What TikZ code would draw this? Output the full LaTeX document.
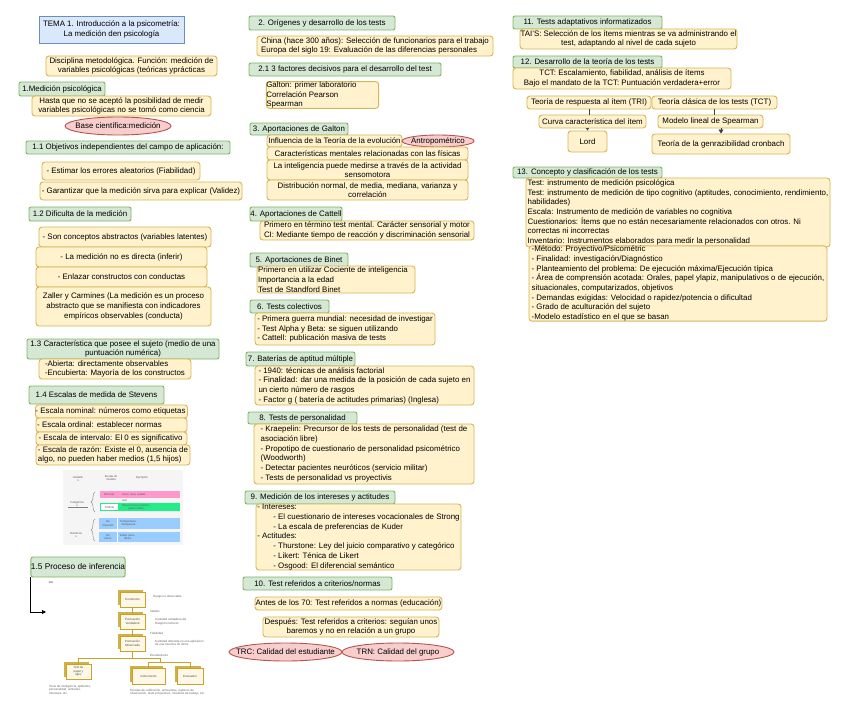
\documentclass[tikz,border=0pt]{standalone}
\usepackage{fontspec}
\setmainfont{Liberation Sans}
\usetikzlibrary{arrows.meta,shapes.geometric}
\definecolor{yfill}{HTML}{FFF2CC}
\definecolor{ydraw}{HTML}{D6B656}
\definecolor{gfill}{HTML}{D5E8D4}
\definecolor{gdraw}{HTML}{82B366}
\definecolor{rfill}{HTML}{F8CECC}
\definecolor{rdraw}{HTML}{B85450}
\definecolor{bfill}{HTML}{DAE8FC}
\definecolor{bdraw}{HTML}{6C8EBF}
\definecolor{gold}{HTML}{C9A227}
\definecolor{cream}{HTML}{FFF8E6}
\definecolor{tpink}{HTML}{FF99CC}
\definecolor{tgreen}{HTML}{22EE88}
\definecolor{tblue}{HTML}{99CCFF}
\newcommand\mkbox[7]{%
 \pgfmathsetmacro\myW{#5-#3}\pgfmathsetmacro\myH{#6-#4}%
 \pgfmathsetmacro\myX{(#3+#5)/2}\pgfmathsetmacro\myY{(#4+#6)/2}%
 \node[#1, minimum width=\myW pt, minimum height=\myH pt] (#2) at (\myX,\myY) {#7};}
\tikzset{
 basefont/.style={inner sep=0pt, font=\fontsize{7.9}{9.7}\selectfont, line width=0.9pt},
 ybox/.style={basefont, draw=ydraw, fill=yfill, rounded corners=3pt, align=center},
 yboxl/.style={ybox, align=left},
 gbox/.style={basefont, draw=gdraw, fill=gfill, rounded corners=2pt, align=center},
 bbox/.style={basefont, draw=bdraw, fill=bfill, align=center},
 rell/.style={basefont, ellipse, draw=rdraw, fill=rfill, inner xsep=-30pt, inner ysep=-8pt},
 conn/.style={line width=0.8pt, draw=black!75},
 ibox/.style={inner sep=0pt, draw=gold, fill=cream, line width=0.6pt, align=center, font=\fontsize{3}{3.6}\selectfont, text=black!70},
 itxt/.style={inner sep=0pt, align=left, anchor=west, font=\fontsize{3}{3.6}\selectfont, text=black!60},
 ttxt/.style={inner sep=0pt, align=center, font=\fontsize{2.8}{3.3}\selectfont, text=black!65},
 iline/.style={draw=gold, line width=0.6pt},
}
\begin{document}
\begin{tikzpicture}[x=1pt,y=-1pt]
\fill[white] (0,0) rectangle (848,717);
\useasboundingbox (0,0) rectangle (848,717);
% ---------------- left column
\mkbox{bbox}{tema}{39}{16}{184}{43}{TEMA 1. Introducción a la psicometría:\\La medición den psicología}
\mkbox{ybox}{disc}{46}{56}{217}{76}{Disciplina metodológica. Función: medición de\\variables psicológicas (teóricas yprácticas}
\mkbox{gbox}{g1}{19}{82}{105}{96}{1.Medición psicológica}
\mkbox{ybox}{hasta}{32}{96}{211}{116}{Hasta que no se aceptó la posibilidad de medir\\variables psicológicas no se tomó como ciencia}
\mkbox{rell}{basecient}{65}{117}{171}{135}{Base científica:medición}
\mkbox{gbox}{g11}{26}{141}{230}{154}{1.1 Objetivos independientes del campo de aplicación:}
\mkbox{ybox}{estimar}{42}{162}{200}{180}{- Estimar los errores aleatorios (Fiabilidad)}
\mkbox{ybox}{garant}{40}{182}{242}{200}{- Garantizar que la medición sirva para explicar (Validez)}
\mkbox{gbox}{g12}{29}{207}{131}{221}{1.2 Dificulta de la medición}
\mkbox{ybox}{son}{39}{227}{211}{247}{- Son conceptos abstractos (variables latentes)}
\mkbox{ybox}{nodir}{36}{247}{207}{267}{- La medición no es directa (inferir)}
\mkbox{ybox}{enlazar}{36}{267}{207}{287}{- Enlazar constructos con conductas}
\mkbox{ybox}{zaller}{36}{287}{211}{326}{Zaller y Carmines (La medición es un proceso\\abstracto que se manifiesta con indicadores\\empíricos observables (conducta)}
\mkbox{gbox}{g13}{27}{339}{219}{359}{1.3 Característica que posee el sujeto (medio de una\\puntuación numérica)}
\mkbox{yboxl}{abierta}{39}{359}{191}{379}{-Abierta: directamente observables\\-Encubierta: Mayoría de los constructos}
\mkbox{gbox}{g14}{29}{386}{164}{404}{1.4 Escalas de medida de Stevens}
\mkbox{yboxl}{nominal}{36}{405}{187}{418}{- Escala nominal: números como etiquetas\hspace*{2pt}}
\mkbox{yboxl}{ordinal}{36}{418}{187}{432}{- Escala ordinal: establecer normas\hspace*{24pt}}
\mkbox{yboxl}{interv}{36}{432}{187}{445}{- Escala de intervalo: El 0 es significativo\hspace*{2pt}}
\mkbox{yboxl}{razon}{36}{445}{190}{465}{- Escala de razón: Existe el 0, ausencia de\\algo, no pueden haber medios (1,5 hijos)}
% scales table image
\fill[black!4] (63,470) rectangle (183,545);
\node[ttxt] (tv) at (78,479) {Variable\\s};
\node[ttxt] (te) at (111,478) {Escala de\\medida};
\node[ttxt] (tej) at (142,478) {Ejemplos};
\fill[tpink] (100,491) rectangle (180,498);
\node[ttxt] (tnom) at (109,494.5) {Nominal};
\node[ttxt, anchor=west] (tnomx) at (122,494.5) {Sexo, raza, estado};
\node[ttxt, anchor=west] (tnomy) at (122,500.5) {civil};
\fill[tgreen] (100,503) rectangle (180,511);
\fill[white] (101,504) rectangle (118,510);
\node[ttxt] (tord) at (109.5,507) {Ordinal};
\node[ttxt, anchor=west] (tordx) at (122,507) {Nivel socioeconómico,\\grado militar};
\node[ttxt] (tcat) at (77,504) {Categórica\\s};
\draw[black!50, line width=0.3pt] (68,507) -- (88,507);
\draw[black!50, line width=0.4pt] (95,492) .. controls (92,492) and (94,502) .. (91,502) .. controls (94,502) and (92,512) .. (95,512);
\fill[tblue] (99,518) rectangle (180,529);
\fill[tblue] (99,532) rectangle (180,542);
\draw[white, line width=0.5pt] (117,518) -- (117,529) (117,532) -- (117,542);
\node[ttxt] (tint) at (108,523.5) {De\\Intervalo};
\node[ttxt, anchor=west] (tintx) at (120,523.5) {Temperatura,\\inteligencia};
\node[ttxt] (traz) at (108,537) {De\\razón};
\node[ttxt, anchor=west] (trazx) at (120,537) {Edad, peso,\\altura};
\node[ttxt] (tnum) at (76,535) {Numérica\\s};
\draw[black!50, line width=0.4pt] (95,519) .. controls (92,519) and (94,530) .. (91,530) .. controls (94,530) and (92,541) .. (95,541);
% 1.5
\mkbox{gbox}{g15}{32}{557}{124}{577}{\fontsize{8.3}{10}\selectfont 1.5 Proceso de inferencia}
\coordinate (infend) at (46,612);
\draw[line width=0.8pt, -{Triangle[length=4pt,width=4pt]}] (g15.south west) |- (infend);
\node[inner sep=0pt, font=\fontsize{7.7}{9}\selectfont] (dash) at (51,583) {–};
% inference image
\foreach \nm/\xa/\ya/\xb/\yb/\tx in {cons/120/592/145/607/Constructo, pv/120/614/145/629/{Puntuación\\Verdadera}, po/120/636/145/651/{Puntuación\\Observada}, tpl/66/664/91/679/{Test de\\papel y\\lápiz}, instr/132/668/165/684/Instrumento, evalu/177/668/203/684/Evaluador}{
  \fill[gold!85] (\xa-2,\ya-2) rectangle (\xb-2,\yb-2);
  \mkbox{ibox}{\nm}{\xa}{\ya}{\xb}{\yb}{\tx}
}
\draw[iline] (cons) -- (pv);
\draw[iline] (pv) -- (po);
\coordinate (j1) at (132.5,658);
\coordinate (j2) at (160,662);
\draw[iline] (po.south) -- (j1);
\draw[iline] (tpl.north |- j1) -- (j2 |- j1) -- (j2);
\draw[iline] (tpl.north |- j1) -- (tpl.north);
\draw[iline] (instr.north |- j2) -- (evalu.north |- j2);
\draw[iline] (instr.north |- j2) -- (instr.north);
\draw[iline] (evalu.north |- j2) -- (evalu.north);
\node[itxt] (l1) at (153,597) {Rasgo no observable};
\node[itxt] (l2) at (150,611) {Validez};
\node[itxt] (l3) at (155,622) {Cantidad verdadera del\\Rasgo/constructo};
\node[itxt] (l4) at (150,633) {Fiabilidad};
\node[itxt] (l5) at (155,643) {Cantidad obtenida en una aplicación\\de una muestra de ítems};
\node[itxt] (l6) at (150,655) {Escalamiento};
\node[itxt] (l7) at (49,690) {Tests de inteligencia, aptitudes,\\personalidad, actitudes,\\intereses, etc.};
\node[itxt] (l8) at (130,692) {Escalas de calificación, entrevistas, registros de\\observación, tests proyectivos, muestras de trabajo, etc.};
% ---------------- middle column
\mkbox{gbox}{g2}{249}{16}{395}{30}{2. Orígenes y desarrollo de los tests}
\mkbox{yboxl}{china}{257}{36}{493}{56}{China (hace 300 años): Selección de funcionarios para el trabajo\\Europa del siglo 19: Evaluación de las diferencias personales}
\mkbox{gbox}{g21}{249}{63}{441}{76}{2.1 3 factores decisivos para el desarrollo del test}
\mkbox{yboxl}{galton}{267}{82}{378}{108}{Galton: primer laboratorio\hspace*{22pt}\\Correlación Pearson\\Spearman}
\mkbox{gbox}{g3}{250}{123}{348}{135}{3. Aportaciones de Galton}
\mkbox{ybox}{influ}{267}{135}{402}{147}{Influencia de la Teoría de la evolución}
\mkbox{rell}{antro}{402}{135}{474}{147}{Antropométrico}
\mkbox{ybox}{caract}{267}{147}{468}{160}{Características mentales relacionadas con las físicas}
\mkbox{ybox}{intel}{267}{160}{468}{180}{La inteligencia puede medirse a través de la actividad\\sensomotora}
\mkbox{ybox}{distr}{267}{180}{468}{200}{Distribución normal, de media, mediana, varianza y\\correlación}
\mkbox{gbox}{g4}{250}{207}{342}{221}{4. Aportaciones de Cattell}
\mkbox{yboxl}{cattell}{260}{221}{474}{240}{Primero en término test mental. Carácter sensorial y motor\\CI: Mediante tiempo de reacción y discriminación sensorial}
\mkbox{gbox}{g5}{250}{253}{348}{267}{5. Aportaciones de Binet}
\mkbox{yboxl}{binet}{257}{266}{415}{293}{Primero en utilizar Cociente de inteligencia\hspace*{6pt}\\Importancia a la edad\\Test de Standford Binet}
\mkbox{gbox}{g6}{250}{300}{329}{313}{6. Tests colectivos}
\mkbox{yboxl}{colect}{255}{313}{435}{345}{- Primera guerra mundial: necesidad de investigar\\- Test Alpha y Beta: se siguen utilizando\\- Cattell: publicación masiva de tests}
\mkbox{gbox}{g7}{246}{352}{355}{366}{7. Baterías de aptitud múltiple}
\mkbox{yboxl}{bater}{255}{366}{474}{405}{- 1940: técnicas de análisis factorial\\- Finalidad: dar una medida de la posición de cada sujeto en\\un cierto número de rasgos\\- Factor g ( batería de actitudes primarias) (Inglesa)}
\mkbox{gbox}{g8}{248}{412}{357}{424}{8. Tests de personalidad}
\mkbox{yboxl}{person}{254}{424}{474}{484}{- Kraepelin: Precursor de los tests de personalidad (test de\\asociación libre)\\- Propotipo de cuestionario de personalidad psicométrico\\(Woodworth)\\- Detectar pacientes neuróticos (servicio militar)\\- Tests de personalidad vs proyectivis}
\mkbox{gbox}{g9}{245}{491}{395}{504}{9. Medición de los intereses y actitudes}
\mkbox{yboxl}{inter}{256}{504}{461}{570}{- Intereses:\\\hspace*{16pt}- El cuestionario de intereses vocacionales de Strong\\\hspace*{16pt}- La escala de preferencias de Kuder\\- Actitudes:\\\hspace*{16pt}- Thurstone: Ley del juicio comparativo y categórico\\\hspace*{16pt}- Likert: Ténica de Likert\\\hspace*{16pt}- Osgood: El diferencial semántico}
\mkbox{gbox}{g10}{243}{577}{392}{590}{10. Test referidos a criterios/normas}
\mkbox{ybox}{antes}{255}{597}{442}{610}{Antes de los 70: Test referidos a normas (educación)}
\mkbox{ybox}{despues}{263}{617}{439}{637}{Después: Test referidos a criterios: seguían unos\\baremos y no en relación a un grupo}
\mkbox{rell}{trc}{229}{643}{342}{661}{TRC: Calidad del estudiante}
\mkbox{rell}{trn}{342}{643}{454}{661}{TRN: Calidad del grupo}
% ---------------- right column
\mkbox{gbox}{g11b}{513}{16}{662}{29}{11. Tests adaptativos informatizados}
\mkbox{ybox}{tais}{520}{29}{737}{49}{TAI'S: Selección de los ítems mientras se va administrando el\\test, adaptando al nivel de cada sujeto}
\mkbox{gbox}{g12b}{513}{56}{662}{68}{12. Desarrollo de la teoría de los tests}
\mkbox{ybox}{tct1}{513}{68}{731}{89}{TCT: Escalamiento, fiabilidad, análisis de ítems\\Bajo el mandato de la TCT: Puntuación verdadera+error}
\mkbox{ybox}{tri}{527}{96}{651}{109}{Teoría de respuesta al ítem (TRI)}
\mkbox{ybox}{tct}{652}{96}{777}{109}{Teoría clásica de los tests (TCT)}
\mkbox{ybox}{curva}{539}{115}{646}{128}{Curva característica del ítem}
\mkbox{ybox}{modelo}{658}{115}{763}{128}{Modelo lineal de Spearman}
\mkbox{ybox}{lord}{568}{131}{607}{152}{Lord}
\mkbox{ybox}{gener}{652}{134}{790}{154}{Teoría de la genrazibilidad cronbach}
\draw[conn] (tri.south) -- (tri.south |- curva.north);
\draw[conn, -{Triangle[length=2.5pt,width=3pt]}] (lord.north |- curva.south) -- (lord.north);
\draw[conn] (tct.south) -- (tct.south |- modelo.north);
\draw[conn, -{Triangle[length=4pt,width=5pt]}] (gener.north |- modelo.south) -- (gener.north);
\mkbox{gbox}{g13b}{513}{167}{662}{178}{13. Concepto y clasificación de los tests}
\mkbox{yboxl}{concep}{526}{178}{830}{247}{Test: instrumento de medición psicológica\\Test: instrumento de medición de tipo cognitivo (aptitudes, conocimiento, rendimiento,\\habilidades)\\Escala: Instrumento de medición de variables no cognitiva\\Cuestionarios: Ítems que no están necesariamente relacionados con otros. Ni\\correctas ni incorrectas\\Inventario: Instrumentos elaborados para medir la personalidad}
\mkbox{yboxl}{clasif}{529}{247}{827}{320}{-Método: Proyectivo/Psicométric\\- Finalidad: investigación/Diagnóstico\\- Planteamiento del problema: De ejecución máxima/Ejecución típica\\- Área de comprensión acotada: Orales, papel ylapiz, manipulativos o de ejecución,\\situacionales, computarizados, objetivos\\- Demandas exigidas: Velocidad o rapidez/potencia o dificultad\\- Grado de aculturación del sujeto\\-Modelo estadístico en el que se basan}
\end{tikzpicture}
\end{document}
